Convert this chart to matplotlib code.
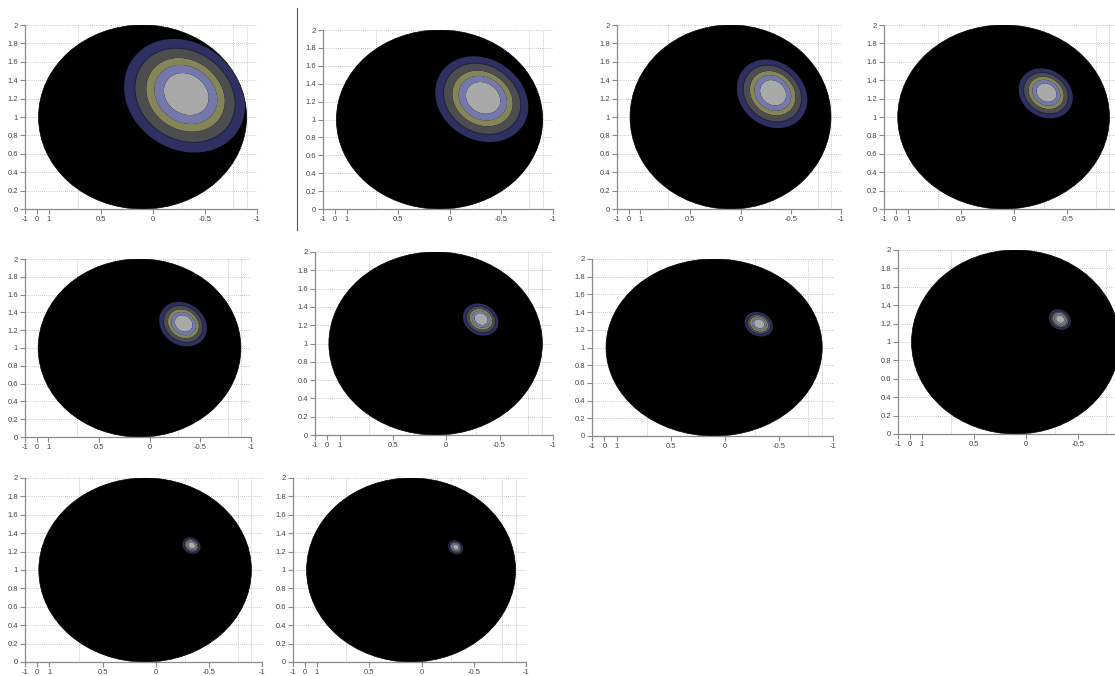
import numpy as np
import matplotlib
matplotlib.use("Agg")
import matplotlib.pyplot as plt
from matplotlib.patches import Circle
from matplotlib.lines import Line2D

plt.rcParams['font.family'] = ['Liberation Sans', 'DejaVu Sans']

# ---------------- data ----------------
# blob centre (data coords) and horizontal half-extent of the outer contour per panel
blob_cx = [-0.33, -0.33, -0.33, -0.31, -0.34, -0.33, -0.32, -0.33, -0.34, -0.33]
blob_cy = [1.26, 1.25, 1.27, 1.27, 1.28, 1.27, 1.27, 1.25, 1.27, 1.25]
blob_size = [0.58, 0.45, 0.35, 0.255, 0.235, 0.165, 0.13, 0.105, 0.085, 0.072]

# disk (domain) centre and radius
disk_cx, disk_cy, disk_r = 0.1, 1.0, 1.0

# normalised contour boundaries (inner -> outer)
band_levels = [0.0, 0.37, 0.52, 0.65, 0.83, 1.0]
band_colors = ['#a9a9a9', '#7478aa', '#85855a', '#4d4d4f', '#2e3062']

x_tick_pos = [1.23, 1.115, 1.0, 0.5, 0.0, -0.5, -1.0]
x_tick_lab = ['-1', '0', '1', '0.5', '0', '-0.5', '-1']
y_tick_pos = [0, 0.2, 0.4, 0.6, 0.8, 1.0, 1.2, 1.4, 1.6, 1.8, 2.0]
y_tick_lab = ['0', '0.2', '0.4', '0.6', '0.8', '1', '1.2', '1.4', '1.6', '1.8', '2']
extra_vgrid = [0.72, -0.28, -0.77, -0.9, -1.0]

# panel boxes in pixels: left, right, top(y=2), bottom(y=0)
panel_px = [
    (25, 257, 25, 209), (323, 553, 30, 209), (617, 841, 25, 209), (884, 1120, 25, 209),
    (25, 251, 259, 437), (315, 553, 252, 435), (592, 833, 259, 436), (898, 1130, 250, 434),
    (25, 262, 478, 662), (293, 526, 478, 662),
]

W, H = 1115, 676
fig = plt.figure(figsize=(W / 100, H / 100), dpi=100)
fig.patch.set_facecolor('white')

tilt = np.deg2rad(55)
skew_dir = np.deg2rad(-45)
skew = 0.08
a_fac, b_fac = 1.12, 0.935

xs = np.linspace(-1.0, 1.23, 500)
ys = np.linspace(0.0, 2.0, 450)
X, Y = np.meshgrid(xs, ys)

for i, (l, r, t, b) in enumerate(panel_px):
    ax = fig.add_axes([l / W, 1 - b / H, (r - l) / W, (b - t) / H])
    ax.set_xlim(1.23, -1.0)
    ax.set_ylim(0, 2)
    ax.set_facecolor('white')
    for s in ['top', 'right']:
        ax.spines[s].set_visible(False)
    for s in ['left', 'bottom']:
        ax.spines[s].set_color('#8a8a8a')
        ax.spines[s].set_linewidth(0.9)
    clipped = r > W
    ax.set_xticks(x_tick_pos[:-1] if clipped else x_tick_pos)
    ax.set_xticklabels(x_tick_lab[:-1] if clipped else x_tick_lab)
    ax.set_yticks(y_tick_pos)
    ax.set_yticklabels(y_tick_lab)
    ax.tick_params(direction='out', length=3.5, width=0.8, color='#8a8a8a',
                   labelsize=5.5, labelcolor='#444444', pad=1.5)
    for yv in y_tick_pos[1:]:
        ax.axhline(yv, color='#b5b5b5', lw=0.6, ls=(0, (1, 1.5)), zorder=0)
    for xv in extra_vgrid:
        ax.axvline(xv, color='#b5b5b5', lw=0.6, ls=(0, (1, 1.5)), zorder=0)

    disk = Circle((disk_cx, disk_cy), disk_r, facecolor='black', edgecolor='black',
                  lw=0.5, zorder=1)
    ax.add_patch(disk)

    cx, cy, hw = blob_cx[i], blob_cy[i], blob_size[i]
    a, bb = hw * a_fac, hw * b_fac
    dx, dy = X - cx, Y - cy
    u = dx * np.cos(tilt) + dy * np.sin(tilt)
    v = -dx * np.sin(tilt) + dy * np.cos(tilt)
    d = np.sqrt((u / a) ** 2 + (v / bb) ** 2)
    phi = np.arctan2(dy, dx)
    d = d / (1 + skew * np.cos(phi - skew_dir))
    cs = ax.contourf(X, Y, d, levels=band_levels, colors=band_colors, zorder=2,
                     antialiased=True)
    cs.set_clip_path(disk)
    cl = ax.contour(X, Y, d, levels=[0.83], colors=['#23243f'], linewidths=0.8, zorder=3)
    cl.set_clip_path(disk)

# thin separator line next to the second panel
fig.add_artist(Line2D([297 / W, 297 / W], [1 - 8 / H, 1 - 230 / H], color='#555555', lw=0.8))

fig.savefig('out.png', dpi=100, facecolor='white')
